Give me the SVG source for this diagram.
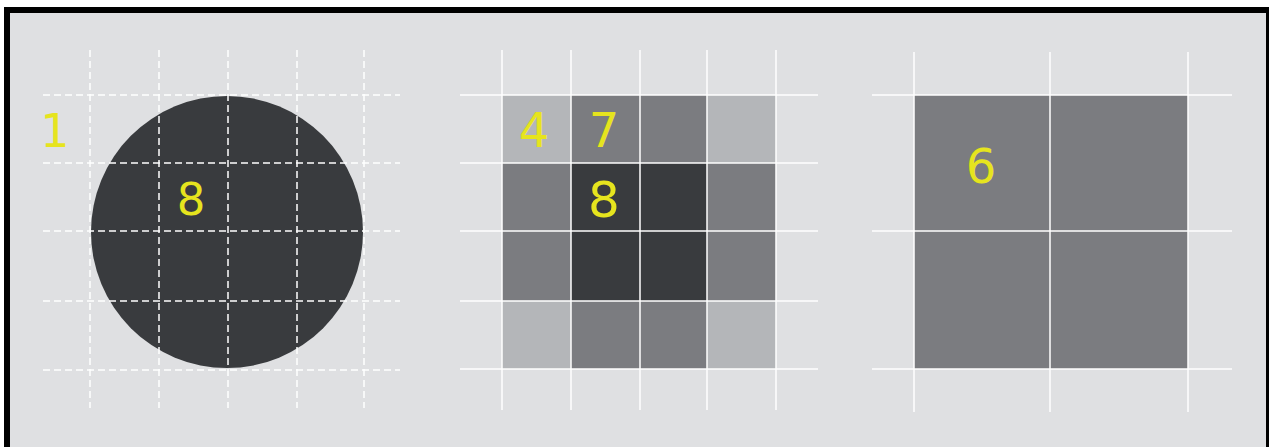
<svg xmlns="http://www.w3.org/2000/svg" width="1272" height="447" viewBox="0 0 1272 447">
  <style>
    .lbl { font-family: "DejaVu Sans", "Liberation Sans", sans-serif; fill: #e6e41e; text-anchor: middle; }
    .dash { stroke: #ffffff; stroke-width: 1.5; stroke-dasharray: 7 4; fill: none; }
    .solid { stroke: #ffffff; stroke-width: 1.5; fill: none; }
    .light { fill: #b4b6b9; }
    .mid { fill: #7b7c80; }
    .dark { fill: #393b3e; }
  </style>
  <rect x="0" y="0" width="1272" height="447" fill="#ffffff"/>
  <g id="frame">
    <rect x="4" y="7" width="1265" height="460" fill="#000000"/>
    <rect x="10" y="13" width="1256" height="450" fill="#dfe0e2"/>
  </g>

  <g id="panel-circle">
    <circle cx="227" cy="232" r="136" class="dark"/>
    <g id="grid-dashed">
      <line class="dash" x1="90" y1="50" x2="90" y2="408"/>
      <line class="dash" x1="159" y1="50" x2="159" y2="408"/>
      <line class="dash" x1="228" y1="50" x2="228" y2="408"/>
      <line class="dash" x1="297" y1="50" x2="297" y2="408"/>
      <line class="dash" x1="364" y1="50" x2="364" y2="408"/>
      <line class="dash" x1="43" y1="95" x2="400" y2="95"/>
      <line class="dash" x1="43" y1="163" x2="400" y2="163"/>
      <line class="dash" x1="43" y1="231" x2="400" y2="231"/>
      <line class="dash" x1="43" y1="301" x2="400" y2="301"/>
      <line class="dash" x1="43" y1="370" x2="400" y2="370"/>
    </g>
    <text class="lbl" x="55" y="147" font-size="46">1</text>
    <text class="lbl" x="191" y="215" font-size="45">8</text>
  </g>

  <g id="panel-pixels">
    <rect class="light" x="502" y="95" width="69" height="68"/>
    <rect class="mid" x="571" y="95" width="69" height="68"/>
    <rect class="mid" x="640" y="95" width="67" height="68"/>
    <rect class="light" x="707" y="95" width="69" height="68"/>
    <rect class="mid" x="502" y="163" width="69" height="68"/>
    <rect class="dark" x="571" y="163" width="69" height="68"/>
    <rect class="dark" x="640" y="163" width="67" height="68"/>
    <rect class="mid" x="707" y="163" width="69" height="68"/>
    <rect class="mid" x="502" y="231" width="69" height="70"/>
    <rect class="dark" x="571" y="231" width="69" height="70"/>
    <rect class="dark" x="640" y="231" width="67" height="70"/>
    <rect class="mid" x="707" y="231" width="69" height="70"/>
    <rect class="light" x="502" y="301" width="69" height="68"/>
    <rect class="mid" x="571" y="301" width="69" height="68"/>
    <rect class="mid" x="640" y="301" width="67" height="68"/>
    <rect class="light" x="707" y="301" width="69" height="68"/>
    <g id="grid-solid-mid">
      <line class="solid" x1="502" y1="50" x2="502" y2="410"/>
      <line class="solid" x1="571" y1="50" x2="571" y2="410"/>
      <line class="solid" x1="640" y1="50" x2="640" y2="410"/>
      <line class="solid" x1="707" y1="50" x2="707" y2="410"/>
      <line class="solid" x1="776" y1="50" x2="776" y2="410"/>
      <line class="solid" x1="460" y1="95" x2="818" y2="95"/>
      <line class="solid" x1="460" y1="163" x2="818" y2="163"/>
      <line class="solid" x1="460" y1="231" x2="818" y2="231"/>
      <line class="solid" x1="460" y1="301" x2="818" y2="301"/>
      <line class="solid" x1="460" y1="369" x2="818" y2="369"/>
    </g>
    <text class="lbl" x="534" y="147" font-size="48">4</text>
    <text class="lbl" x="604" y="147" font-size="48">7</text>
    <text class="lbl" x="604" y="217" font-size="50">8</text>
  </g>

  <g id="panel-coarse">
    <rect class="mid" x="914" y="95" width="274" height="274"/>
    <g id="grid-solid-right">
      <line class="solid" x1="914" y1="52" x2="914" y2="412"/>
      <line class="solid" x1="1050" y1="52" x2="1050" y2="412"/>
      <line class="solid" x1="1188" y1="52" x2="1188" y2="412"/>
      <line class="solid" x1="872" y1="95" x2="1232" y2="95"/>
      <line class="solid" x1="872" y1="231" x2="1232" y2="231"/>
      <line class="solid" x1="872" y1="369" x2="1232" y2="369"/>
    </g>
    <text class="lbl" x="981" y="183" font-size="48">6</text>
  </g>
</svg>
